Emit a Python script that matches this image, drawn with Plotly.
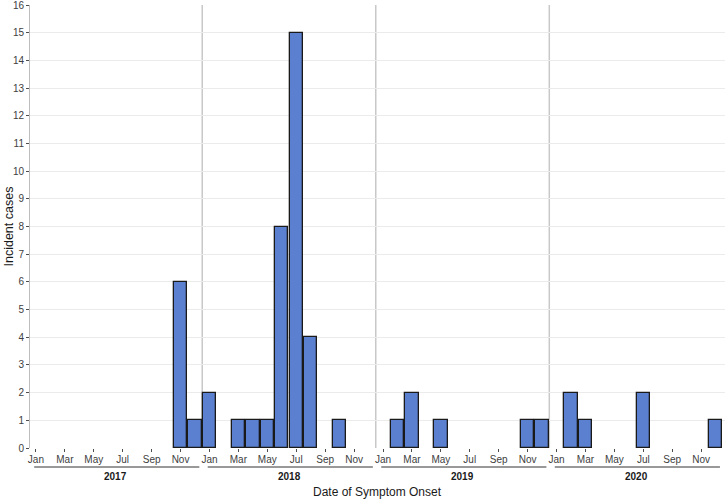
import plotly.graph_objects as go

years = [2017, 2018, 2019, 2020]
month_names = ["Jan", "Feb", "Mar", "Apr", "May", "Jun", "Jul", "Aug", "Sep", "Oct", "Nov", "Dec"]
cases_2017 = [0, 0, 0, 0, 0, 0, 0, 0, 0, 0, 6, 1]
cases_2018 = [2, 0, 1, 1, 1, 8, 15, 4, 0, 1, 0, 0]
cases_2019 = [0, 1, 2, 0, 1, 0, 0, 0, 0, 0, 1, 1]
cases_2020 = [0, 2, 1, 0, 0, 0, 2, 0, 0, 0, 0, 1]
tick_months = ["Jan", "Mar", "May", "Jul", "Sep", "Nov"]

all_cases = cases_2017 + cases_2018 + cases_2019 + cases_2020
x_idx = list(range(len(all_cases)))
y_vals = [v if v > 0 else None for v in all_cases]

tickvals, ticktext = [], []
for yi, _ in enumerate(years):
    for mi, m in enumerate(month_names):
        if m in tick_months:
            tickvals.append(yi * 12 + mi)
            ticktext.append(m)

fig = go.Figure()
fig.add_trace(go.Bar(
    x=x_idx, y=y_vals, width=0.93,
    marker=dict(color="#5B80CF", line=dict(color="#1a1a1a", width=1.3)),
    hoverinfo="x+y",
))

PLOT_H = 443.0
shapes = []
annotations = []
for yi, yr in enumerate(years):
    if yi > 0:
        shapes.append(dict(type="line", xref="x", yref="paper", x0=yi * 12 - 0.5, x1=yi * 12 - 0.5,
                           y0=0, y1=1, line=dict(color="#c8c8c8", width=1.5), layer="below"))
    shapes.append(dict(type="line", xref="x", yref="paper", x0=yi * 12 - 0.12, x1=yi * 12 + 11.3,
                       y0=-19 / PLOT_H, y1=-19 / PLOT_H, line=dict(color="#333333", width=1)))
    annotations.append(dict(x=yi * 12 + 5.5, y=-28.5 / PLOT_H, xref="x", yref="paper", text="<b>%d</b>" % yr,
                            showarrow=False, yanchor="middle", font=dict(size=10, color="#1a1a1a")))

annotations.append(dict(x=0.5, y=-44 / PLOT_H, xref="paper", yref="paper", text="Date of Symptom Onset",
                        showarrow=False, yanchor="middle", xanchor="center",
                        font=dict(size=12, color="#1a1a1a")))
annotations.append(dict(x=-22 / 695.0, y=0.5, xref="paper", yref="paper", text="Incident cases",
                        showarrow=False, textangle=-90, xanchor="center", yanchor="middle",
                        font=dict(size=12.5, color="#1a1a1a")))

fig.update_layout(
    width=725, height=500,
    margin=dict(l=30, r=0, t=5, b=52, autoexpand=False),
    paper_bgcolor="white", plot_bgcolor="white",
    font=dict(family="Liberation Sans, Arial, sans-serif", color="#404040", size=10),
    showlegend=False,
    bargap=0,
    shapes=shapes,
    annotations=annotations,
    xaxis=dict(
        range=[-0.41, 47.65], tickmode="array", tickvals=tickvals, ticktext=ticktext,
        showgrid=False, zeroline=False, showline=False, automargin=False,
        ticks="outside", ticklen=3, tickcolor="#4d4d4d", tickfont=dict(size=10, color="#404040"),
        ticklabelstandoff=-1, ticklabeloverflow="allow",
    ),
    yaxis=dict(
        range=[0, 16], dtick=1, showgrid=True, gridcolor="#ebebeb", gridwidth=1,
        zeroline=False, showline=True, linecolor="#bdbdbd", linewidth=1, automargin=False,
        ticks="outside", ticklen=3, tickcolor="#4d4d4d", tickfont=dict(size=10, color="#404040"),
        ticklabeloverflow="allow",
    ),
)

fig.write_html("out.html", config={"displayModeBar": False},
               post_script="document.body.style.margin='0';document.body.style.padding='0';")
